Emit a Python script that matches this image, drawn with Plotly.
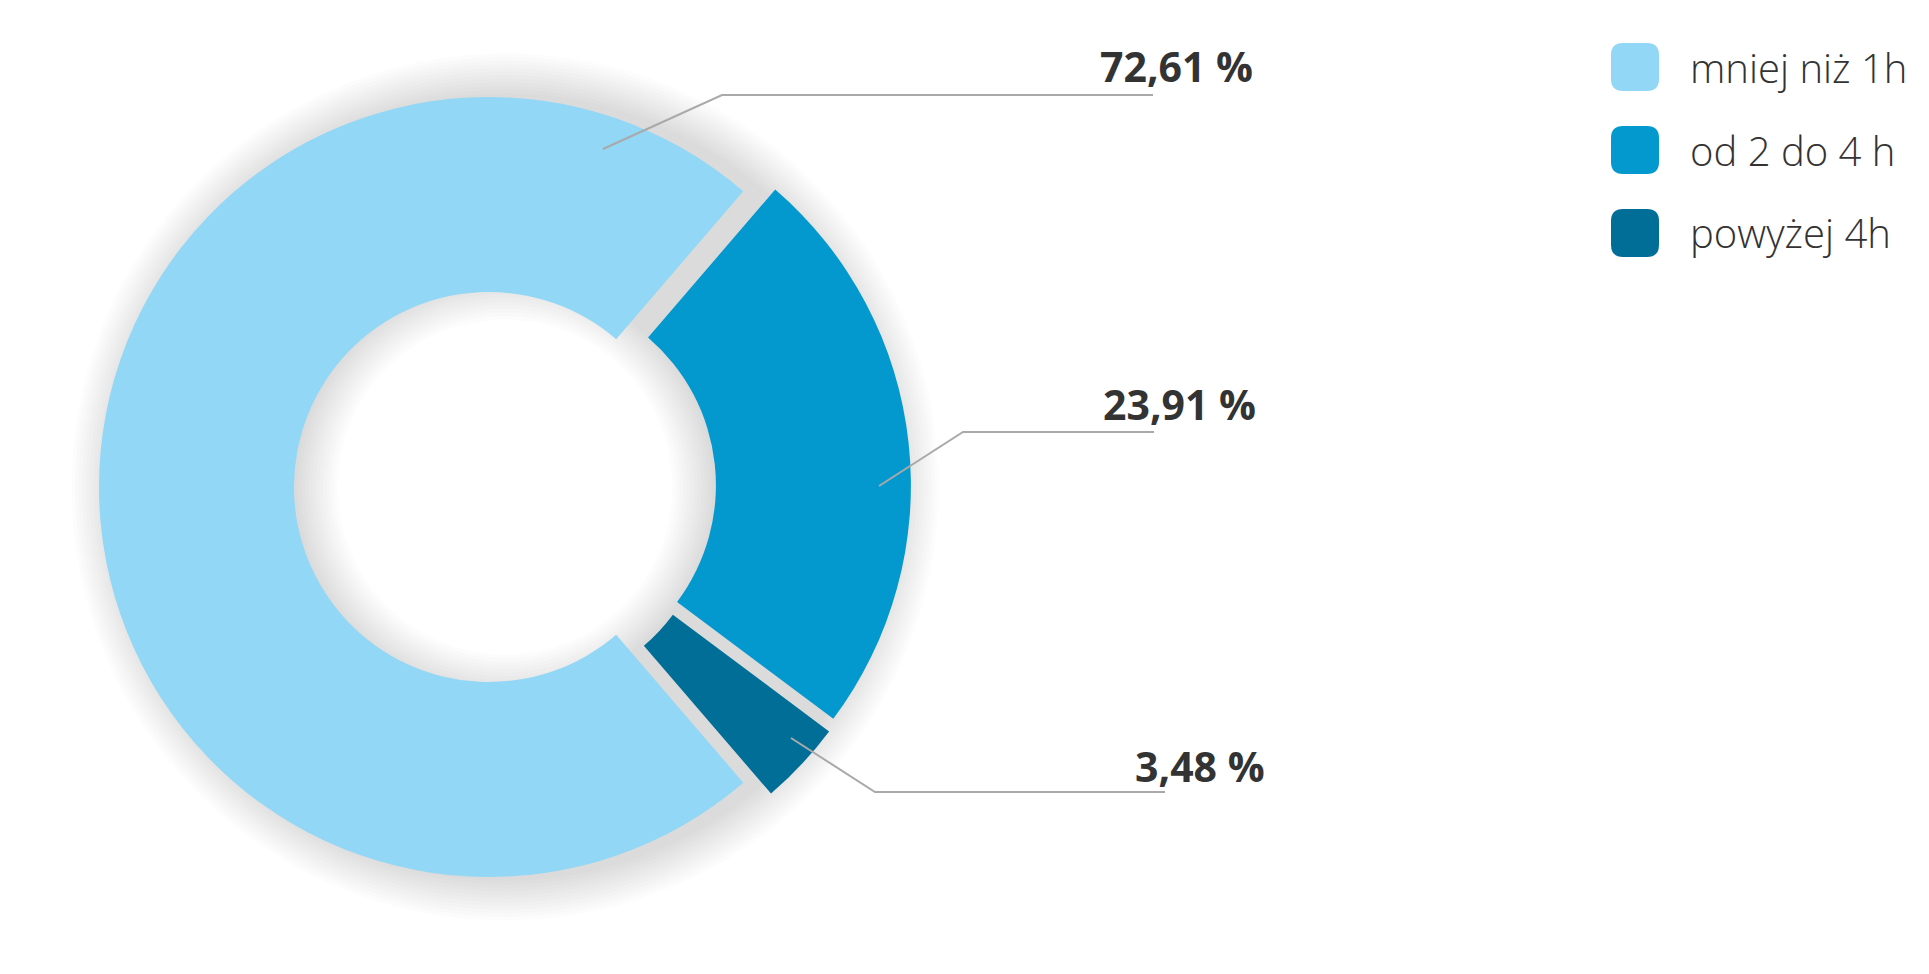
import plotly.graph_objects as go

# ---- data ----
categories = ["mniej niż 1h", "od 2 do 4 h", "powyżej 4h"]
values = [72.61, 23.91, 3.48]
value_labels = ["72,61 %", "23,91 %", "3,48 %"]
colors = ["#92D7F5", "#0399CE", "#016E98"]

W, H = 1929, 974
OFF = 8  # page body margin


def px(x):
    return (x - OFF) / W


def py(y):
    return 1 - (y - OFF) / H


# pie geometry (pixels, page coordinates)
CX, CY = 505, 487
R = 390
PULL_PX = 16
pull = PULL_PX / R
half = R * (1 + pull)

fig = go.Figure()

# soft shadow: stacked translucent rings behind the donut
N = 12
step = 3.6
for k in range(N):
    rk = 394 + k * step
    rin = 207 - k * step
    fig.add_trace(go.Pie(
        values=[1], labels=["s"], sort=False,
        marker=dict(colors=["rgba(0,0,0,0.011)"], line=dict(width=0)),
        hole=rin / rk, textinfo="none", hoverinfo="skip", showlegend=False,
        domain=dict(x=[px(CX - rk), px(CX + rk)], y=[py(CY + rk), py(CY - rk)]),
    ))

fig.add_trace(go.Pie(
    labels=categories, values=values, sort=False,
    direction="clockwise", rotation=139.3,
    hole=0.5, pull=[pull] * len(values),
    marker=dict(colors=colors, line=dict(width=0)),
    textinfo="none", hoverinfo="label+value", showlegend=False,
    domain=dict(x=[px(CX - half), px(CX + half)], y=[py(CY + half), py(CY - half)]),
))

# leader lines + value labels
leaders = [
    [(603, 149), (722, 95), (1153, 95)],
    [(879, 486), (963, 432), (1154, 432)],
    [(791, 738), (875, 792), (1165, 792)],
]
label_pos = [(1098, 66), (1101, 404), (1133, 766)]

shapes = []
annotations = []
for pts, (lx, ly), txt in zip(leaders, label_pos, value_labels):
    d = "M {} {}".format(px(pts[0][0]), py(pts[0][1]))
    for (x, y) in pts[1:]:
        d += " L {} {}".format(px(x), py(y))
    shapes.append(dict(type="path", xref="paper", yref="paper", path=d,
                       line=dict(color="#A9A9A9", width=2)))
    annotations.append(dict(x=px(lx), y=py(ly), xref="paper", yref="paper",
                            text="<b>" + txt + "</b>", showarrow=False,
                            xanchor="left", yanchor="middle",
                            font=dict(family="Open Sans", size=41, color="#333333")))

# custom legend with rounded squares
lx0, lx1 = 1611, 1659
rr = 12
for i, (cat, col) in enumerate(zip(categories, colors)):
    y0 = 43 + i * 83
    y1 = y0 + 48
    x0, x1 = lx0, lx1
    pts = [
        ("M", x0 + rr, y0), ("L", x1 - rr, y0), ("Q", x1, y0, x1, y0 + rr),
        ("L", x1, y1 - rr), ("Q", x1, y1, x1 - rr, y1), ("L", x0 + rr, y1),
        ("Q", x0, y1, x0, y1 - rr), ("L", x0, y0 + rr), ("Q", x0, y0, x0 + rr, y0),
    ]
    d = ""
    for p in pts:
        if p[0] == "Q":
            d += " Q {} {} {} {}".format(px(p[1]), py(p[2]), px(p[3]), py(p[4]))
        else:
            d += " {} {} {}".format(p[0], px(p[1]), py(p[2]))
    d += " Z"
    shapes.append(dict(type="path", xref="paper", yref="paper", path=d.strip(),
                       fillcolor=col, line=dict(width=0)))
    annotations.append(dict(x=px(1688), y=py((y0 + y1) / 2), xref="paper", yref="paper",
                            text=cat, showarrow=False, xanchor="left", yanchor="middle",
                            font=dict(family="Open Sans", size=40, color="#333333", weight=300)))

fig.update_layout(
    width=W, height=H,
    margin=dict(l=0, r=0, t=0, b=0),
    paper_bgcolor="white", plot_bgcolor="white",
    shapes=shapes, annotations=annotations,
    showlegend=False,
)

fig.write_html("out.html")
